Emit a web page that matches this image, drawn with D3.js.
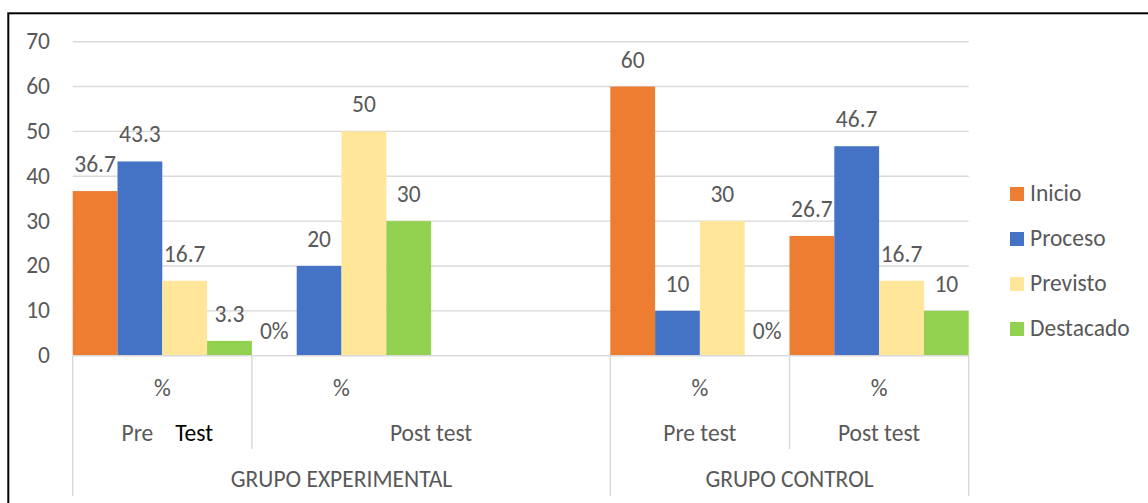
<!DOCTYPE html>
<html>
<head>
<meta charset="utf-8">
<script src="https://cdn.jsdelivr.net/npm/d3@7"></script>
<style>
  body { margin: 0; background: #fff; }
  svg text { font-family: Carlito, Calibri, Lato, sans-serif; fill: #595959; }
</style>
</head>
<body>
<svg width="1148" height="503"></svg>
<script>
// series and values, one value per category slot (slot 3 is an empty spacer)
var seriesNames = ["Inicio", "Proceso", "Previsto", "Destacado"];
var seriesColors = ["#ED7D31", "#4472C4", "#FFE699", "#92D050"];
var inicio    = [36.7, 0,  null, 60, 26.7];
var proceso   = [43.3, 20, null, 10, 46.7];
var previsto  = [16.7, 50, null, 30, 16.7];
var destacado = [3.3,  30, null, 0,  10];

// multi-level category labels
var slotLabels = ["%", "%", "", "%", "%"];
var testLabels = [
  {name: "Pre Test", from: 0, to: 0},
  {name: "Post test", from: 1, to: 2},
  {name: "Pre test", from: 3, to: 3},
  {name: "Post test", from: 4, to: 4}
];
var groupLabels = [
  {name: "GRUPO EXPERIMENTAL", from: 0, to: 2},
  {name: "GRUPO CONTROL", from: 3, to: 4}
];
var yTicks = [0, 10, 20, 30, 40, 50, 60, 70];

var allValues = [inicio, proceso, previsto, destacado];
var data = [];
slotLabels.forEach(function(s, i) {
  seriesNames.forEach(function(name, j) {
    if (allValues[j][i] !== null) {
      data.push({slot: i, series: name, value: allValues[j][i]});
    }
  });
});

var svg = d3.select("svg"),
    plot = {left: 72.7, right: 968.7, top: 41.7, bottom: 355.7},
    fontSize = "23.5px";

// outer frame
svg.append("rect")
    .attr("x", 8.3).attr("y", 13.3)
    .attr("width", 1200).attr("height", 600)
    .attr("fill", "none").attr("stroke", "#000").attr("stroke-width", 2);

var x = d3.scaleBand().domain(d3.range(slotLabels.length)).range([plot.left, plot.right]).padding(0),
    xs = d3.scaleBand().domain(seriesNames).range([0, x.bandwidth()]).padding(0),
    y = d3.scaleLinear().domain([0, 70]).range([plot.bottom, plot.top]),
    color = d3.scaleOrdinal().domain(seriesNames).range(seriesColors);

// gridlines and y labels
var yAxis = svg.append("g").attr("class", "axis axis--y");
yAxis.selectAll("line")
    .data(yTicks.filter(function(d) { return d > 0; }))
  .enter().append("line")
    .attr("x1", plot.left).attr("x2", plot.right)
    .attr("y1", function(d) { return y(d); })
    .attr("y2", function(d) { return y(d); })
    .attr("stroke", "#d9d9d9").attr("stroke-width", 1.4);

yAxis.selectAll("text")
    .data(yTicks)
  .enter().append("text")
    .attr("x", 50)
    .attr("y", function(d) { return y(d) + 7.5; })
    .attr("text-anchor", "end")
    .attr("font-size", fontSize)
    .text(function(d) { return d; });

// bars
var bars = svg.selectAll(".bar")
    .data(data)
  .enter().append("g");

bars.append("rect")
    .attr("class", "bar")
    .attr("x", function(d) { return x(d.slot) + xs(d.series); })
    .attr("y", function(d) { return y(d.value); })
    .attr("width", xs.bandwidth())
    .attr("height", function(d) { return plot.bottom - y(d.value); })
    .attr("fill", function(d) { return color(d.series); });

bars.append("text")
    .attr("x", function(d) { return x(d.slot) + xs(d.series) + xs.bandwidth() / 2; })
    .attr("y", function(d) { return y(d.value) - (d.value === 0 ? 17 : 19); })
    .attr("text-anchor", "middle")
    .attr("font-size", fontSize)
    .text(function(d) { return d.value === 0 ? "0%" : d.value; });

// category axis
var xAxis = svg.append("g").attr("class", "axis axis--x");
xAxis.append("line")
    .attr("x1", plot.left).attr("x2", plot.right)
    .attr("y1", plot.bottom).attr("y2", plot.bottom)
    .attr("stroke", "#d9d9d9").attr("stroke-width", 1.4);

// dividers between test labels (short) and groups (long)
var groupEdges = [x(0)].concat(groupLabels.map(function(g) { return x(g.to) + x.bandwidth(); }));
var testEdges = testLabels.map(function(t) { return x(t.to) + x.bandwidth(); })
    .filter(function(e) { return groupEdges.indexOf(e) < 0; });

xAxis.selectAll(".div-test")
    .data(testEdges)
  .enter().append("line")
    .attr("x1", function(d) { return d; }).attr("x2", function(d) { return d; })
    .attr("y1", plot.bottom).attr("y2", 449)
    .attr("stroke", "#d9d9d9").attr("stroke-width", 1.4);

xAxis.selectAll(".div-group")
    .data(groupEdges)
  .enter().append("line")
    .attr("x1", function(d) { return d; }).attr("x2", function(d) { return d; })
    .attr("y1", plot.bottom).attr("y2", 496)
    .attr("stroke", "#d9d9d9").attr("stroke-width", 1.4);

xAxis.selectAll(".slot-label")
    .data(slotLabels)
  .enter().append("text")
    .attr("x", function(d, i) { return x(i) + x.bandwidth() / 2; })
    .attr("y", 396)
    .attr("text-anchor", "middle")
    .attr("font-size", fontSize)
    .text(function(d) { return d; });

function spanCenter(t) { return (x(t.from) + x(t.to) + x.bandwidth()) / 2; }

testLabels.forEach(function(t) {
  var txt = xAxis.append("text")
      .attr("x", spanCenter(t))
      .attr("y", 441)
      .attr("text-anchor", "middle")
      .attr("font-size", fontSize);
  if (t.name === "Pre Test") {
    // this label was typed with a separate, black "Test"
    txt.attr("x", spanCenter(t) + 5);
    txt.append("tspan").text("Pre");
    txt.append("tspan").attr("dx", 22).style("fill", "#000").text("Test");
  } else {
    txt.text(t.name);
  }
});

xAxis.selectAll(".group-label")
    .data(groupLabels)
  .enter().append("text")
    .attr("x", spanCenter)
    .attr("y", 487)
    .attr("text-anchor", "middle")
    .attr("font-size", fontSize)
    .text(function(d) { return d.name; });

// legend
var legend = svg.selectAll(".legend")
    .data(seriesNames)
  .enter().append("g")
    .attr("transform", function(d, i) { return "translate(1010," + (201 + i * 45) + ")"; });

legend.append("rect")
    .attr("y", -14).attr("width", 14).attr("height", 14)
    .attr("fill", function(d) { return color(d); });

legend.append("text")
    .attr("x", 20)
    .attr("font-size", fontSize)
    .text(function(d) { return d; });
</script>
</body>
</html>
